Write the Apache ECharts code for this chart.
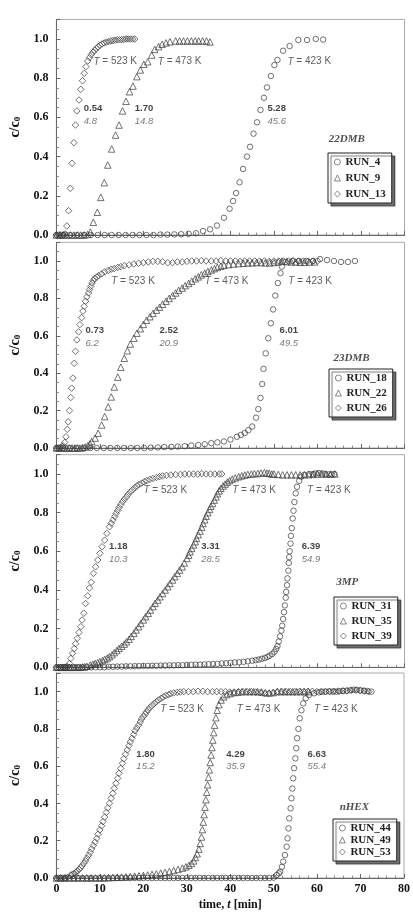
<!DOCTYPE html>
<html>
<head>
<meta charset="utf-8">
<script src="https://cdn.jsdelivr.net/npm/echarts@6/dist/echarts.min.js"></script>
<style>
  html, body { margin: 0; padding: 0; background: #fff; }
  #chart { width: 413px; height: 923px; }
</style>
</head>
<body>
<div id="chart"></div>
<script>
// breakthrough curves, [time min, c/c0]
const run4 = [[0,0],[1.6,0],[3.2,0],[4.8,0],[6.4,0],[7.9,0],[9.5,0],[11.1,0],[12.7,0],[14.3,0],[15.9,0],[17.5,0],[19.1,0],[20.7,0],[22.3,0],[23.9,0.002],[25.5,0.002],[27.1,0.003],[28.7,0.004],[30.4,0.006],[32.1,0.009],[33.7,0.02],[35.3,0.029],[36.9,0.048],[38.5,0.088],[39.8,0.134],[40.6,0.173],[41.3,0.214],[42.1,0.269],[42.9,0.337],[43.8,0.4],[44.5,0.45],[45.3,0.517],[46.1,0.575],[46.9,0.638],[47.7,0.7],[48.4,0.753],[49.3,0.811],[50.1,0.867],[50.8,0.893],[52.1,0.94],[53.6,0.964],[55.6,0.995],[57.6,0.995],[59.6,1.0],[61.3,0.997]];
const run9 = [[0,0],[0.8,0],[1.6,0],[2.4,0],[3.2,0],[4.0,0],[4.8,0],[5.6,0],[6.4,0],[7.2,0.003],[7.8,0.015],[8.5,0.065],[9.4,0.116],[10.2,0.192],[11.0,0.267],[11.8,0.357],[12.7,0.439],[13.6,0.51],[14.4,0.561],[15.2,0.633],[16.0,0.682],[16.8,0.731],[17.6,0.76],[18.5,0.808],[19.3,0.842],[20.1,0.871],[21.0,0.884],[21.9,0.918],[22.6,0.947],[23.5,0.961],[24.3,0.973],[25.2,0.98],[26.1,0.986],[27.4,0.99],[28.3,0.99],[29.2,0.99],[30.1,0.99],[31.0,0.99],[31.9,0.99],[32.7,0.99],[33.6,0.99],[34.5,0.99],[35.3,0.985]];
const run13 = [[0,0],[0.4,0],[0.8,0],[1.2,0],[1.6,0],[2.0,0.005],[2.4,0.046],[2.8,0.124],[3.2,0.238],[3.6,0.366],[4.0,0.471],[4.4,0.561],[4.7,0.633],[5.2,0.689],[5.6,0.743],[6.0,0.787],[6.4,0.825],[6.8,0.859],[7.2,0.888],[7.6,0.905],[8.0,0.92],[8.4,0.932],[8.8,0.942],[9.2,0.952],[9.6,0.96],[10.0,0.968],[10.5,0.975],[11.0,0.98],[11.5,0.984],[12.0,0.987],[12.5,0.99],[13.0,0.992],[13.5,0.994],[14.0,0.996],[14.5,0.996],[15.0,0.997],[15.5,0.998],[16.0,1.0],[16.5,1.0],[17.0,1.0],[17.5,1.0],[18.0,1.0]];

const run18 = [[0,0],[1.6,0],[3.1,0],[4.7,0],[6.2,0],[7.8,0],[9.3,0],[10.9,0],[12.4,0],[14.0,0],[15.5,0],[17.1,0],[18.6,0],[20.2,0],[21.7,0.002],[23.3,0.003],[24.8,0.005],[26.4,0.006],[27.9,0.008],[29.5,0.01],[31.0,0.013],[32.6,0.016],[34.1,0.02],[35.6,0.026],[37.0,0.03],[38.5,0.035],[40.0,0.045],[41.5,0.06],[42.4,0.07],[43.3,0.08],[44.1,0.095],[45.0,0.115],[45.9,0.162],[46.4,0.208],[46.9,0.268],[47.3,0.342],[47.6,0.423],[48.1,0.506],[48.7,0.587],[49.3,0.667],[49.8,0.741],[50.3,0.815],[50.9,0.882],[51.5,0.935],[51.8,0.97],[52.6,0.995],[54.2,1.0],[55.8,1.0],[57.4,1.0],[59.0,1.0],[60.6,1.01],[62.2,1.005],[63.8,1.0],[65.4,0.995],[67.0,0.995],[68.6,1.0]];
const run22 = [[0,0],[0.6,0],[1.2,0],[1.8,0],[2.4,0],[3.0,0],[3.6,0],[4.2,0],[4.8,0],[5.4,0],[6.0,0.002],[6.6,0.005],[7.2,0.012],[7.7,0.022],[8.1,0.035],[8.9,0.053],[9.6,0.079],[10.4,0.123],[11.1,0.168],[11.9,0.22],[12.6,0.273],[13.3,0.326],[14.1,0.379],[14.8,0.432],[15.6,0.48],[16.3,0.52],[17.0,0.556],[17.8,0.587],[18.5,0.614],[19.3,0.638],[20.0,0.661],[20.7,0.683],[21.5,0.702],[22.2,0.72],[23.0,0.737],[23.7,0.753],[24.4,0.769],[25.2,0.785],[25.9,0.8],[26.7,0.815],[27.4,0.829],[28.1,0.843],[28.9,0.855],[29.6,0.868],[30.4,0.88],[31.1,0.892],[31.9,0.905],[32.6,0.915],[33.3,0.926],[34.1,0.935],[34.8,0.944],[35.6,0.952],[36.3,0.959],[37.0,0.966],[37.8,0.972],[38.5,0.977],[39.6,0.981],[40.7,0.984],[41.9,0.986],[43.0,0.988],[44.0,0.99],[45.0,0.99],[46.0,0.992],[47.0,0.992],[48.0,0.99],[49.0,0.99],[50.0,0.992],[51.0,0.995],[51.8,1.0],[53.0,0.997],[54.0,0.995],[55.0,0.995],[56.0,0.993],[57.0,0.993],[58.1,0.995],[59.3,0.995]];
const run26 = [[0,0],[0.4,0],[0.8,0],[1.1,0.005],[1.5,0.012],[1.9,0.03],[2.2,0.06],[2.5,0.1],[2.7,0.14],[3.0,0.2],[3.3,0.27],[3.5,0.32],[3.8,0.374],[4.1,0.453],[4.4,0.517],[4.7,0.578],[5.1,0.621],[5.4,0.66],[5.8,0.697],[6.1,0.732],[6.4,0.758],[6.7,0.785],[7.0,0.808],[7.4,0.829],[7.6,0.847],[7.9,0.864],[8.2,0.882],[8.5,0.896],[8.8,0.907],[9.3,0.914],[9.7,0.922],[10.4,0.931],[11.1,0.942],[11.9,0.949],[12.6,0.956],[13.3,0.959],[14.1,0.966],[14.8,0.97],[15.6,0.975],[16.7,0.979],[17.8,0.984],[18.9,0.988],[20.0,0.991],[21.1,0.995],[22.2,0.998],[23.3,0.998],[24.4,0.996],[25.6,0.991],[26.7,0.991],[27.8,0.995],[28.9,0.995],[30.0,0.998],[31.1,1.0],[32.2,1.0],[33.3,1.002],[34.4,1.0],[35.6,1.0],[36.7,1.0],[37.8,1.002],[38.9,1.0],[40.0,1.0],[41.1,1.0],[42.2,0.998],[43.3,1.0],[44.4,1.0],[45.6,1.0],[46.7,1.0],[47.8,1.0],[48.9,0.998],[50.0,1.0],[51.1,1.0],[52.2,1.0],[53.3,1.0],[54.4,1.002],[55.6,1.0],[56.7,1.0],[57.8,0.998],[58.9,1.0],[60.0,1.0]];

const run31 = [[0,0],[1,0],[2,0],[3,0],[4,0],[5,0],[6,0],[7,0],[8,0],[9,0],[10,0],[11,0],[12,0.003],[13,0.003],[14,0.004],[15,0.004],[16,0.005],[17,0.005],[18,0.006],[19,0.006],[20,0.007],[21,0.007],[22,0.008],[23,0.008],[24,0.009],[25,0.009],[26,0.01],[27,0.01],[28,0.011],[29,0.011],[30,0.012],[31,0.013],[32,0.014],[33,0.014],[34,0.015],[35,0.016],[36,0.017],[37,0.018],[38,0.02],[39,0.021],[40,0.023],[41,0.025],[42,0.026],[43,0.028],[44,0.031],[45,0.034],[45.8,0.037],[46.5,0.04],[47.2,0.044],[47.9,0.048],[48.5,0.054],[49.0,0.06],[49.6,0.069],[50.1,0.08],[50.5,0.095],[50.8,0.11],[51.1,0.133],[51.4,0.16],[51.7,0.19],[51.9,0.215],[52.1,0.25],[52.3,0.285],[52.5,0.32],[52.7,0.36],[52.8,0.39],[53.0,0.425],[53.1,0.46],[53.3,0.5],[53.4,0.54],[53.5,0.57],[53.6,0.6],[53.8,0.64],[53.9,0.68],[54.1,0.72],[54.3,0.77],[54.5,0.81],[54.7,0.855],[55.0,0.9],[55.3,0.934],[55.8,0.965],[56.3,0.986],[57.0,0.996],[58.1,1.0],[59.0,1.0],[59.6,1.003],[60.3,1.005],[61.1,1.003],[61.8,1.0],[62.6,0.998],[63.3,0.998],[63.9,1.0]];
const run35 = [[0,0],[0.5,0],[1.0,0],[1.5,0],[2.0,0],[2.5,0],[3.0,0],[3.5,0],[4.0,0],[4.5,0],[5.0,0],[5.5,0],[6.0,0.002],[6.5,0.003],[7.0,0.005],[7.8,0.012],[8.4,0.016],[8.9,0.02],[9.5,0.024],[10.0,0.029],[10.6,0.035],[11.1,0.041],[11.7,0.048],[12.2,0.055],[12.8,0.065],[13.3,0.076],[13.9,0.087],[14.4,0.098],[15.0,0.109],[15.6,0.12],[16.1,0.132],[16.7,0.145],[17.2,0.16],[17.8,0.176],[18.3,0.193],[18.9,0.21],[19.4,0.227],[20.0,0.245],[20.5,0.262],[21.1,0.279],[21.6,0.296],[22.2,0.314],[22.7,0.331],[23.3,0.348],[23.8,0.365],[24.4,0.382],[25.0,0.4],[25.6,0.417],[26.1,0.434],[26.7,0.452],[27.2,0.469],[27.8,0.486],[28.3,0.503],[28.9,0.52],[29.4,0.54],[30.0,0.563],[30.4,0.58],[30.7,0.598],[31.1,0.615],[31.5,0.633],[31.9,0.65],[32.2,0.667],[32.6,0.686],[33.0,0.705],[33.4,0.725],[33.7,0.744],[34.1,0.763],[34.4,0.782],[34.8,0.8],[35.2,0.817],[35.5,0.833],[35.9,0.848],[36.3,0.865],[36.7,0.882],[37.0,0.898],[37.4,0.913],[37.8,0.926],[38.3,0.938],[38.8,0.948],[39.3,0.958],[39.8,0.966],[40.4,0.974],[41.1,0.98],[41.9,0.986],[42.6,0.991],[43.3,0.995],[44.0,0.998],[44.8,1.0],[45.5,1.002],[46.3,1.003],[47.0,1.005],[47.8,1.007],[48.4,1.005],[48.9,1.003],[49.5,1.0],[50.0,1.0],[51.0,0.998],[52.0,0.996],[53.0,0.996],[54.0,0.996],[55.0,0.996],[56.0,0.996],[57.0,0.996],[58.0,0.997],[59.0,0.998],[60.0,1.0],[61.0,1.0],[62.0,1.0],[63.0,1.0],[64.0,1.0]];
const run39 = [[0,0],[0.5,0],[1.0,0],[1.5,0],[2.0,0],[2.5,0.004],[3.0,0.02],[3.3,0.046],[3.7,0.072],[4.1,0.097],[4.4,0.122],[4.8,0.15],[5.2,0.18],[5.6,0.21],[5.9,0.245],[6.3,0.28],[6.7,0.33],[7.2,0.37],[7.6,0.41],[8.0,0.44],[8.5,0.486],[9.0,0.52],[9.5,0.555],[10.0,0.59],[10.5,0.624],[11.1,0.658],[11.6,0.693],[12.2,0.727],[12.6,0.745],[13.0,0.762],[13.4,0.78],[13.7,0.796],[14.1,0.812],[14.4,0.827],[14.8,0.842],[15.2,0.857],[15.6,0.87],[16.1,0.882],[16.5,0.895],[17.0,0.908],[17.5,0.918],[18.0,0.929],[18.5,0.938],[19.0,0.946],[19.6,0.953],[20.2,0.96],[20.8,0.966],[21.5,0.972],[22.2,0.977],[23.0,0.982],[23.7,0.986],[24.4,0.99],[25.3,0.993],[26.3,0.995],[27.4,0.997],[28.5,0.998],[29.5,1.0],[30.5,1.0],[31.5,1.0],[32.5,1.0],[33.4,1.002],[34.4,1.0],[35.4,1.0],[36.4,1.0],[37.4,1.0],[38.0,1.0]];

const run44 = [[0,0],[1,0],[2,0],[3,0],[4,0],[5,0],[6,0],[7,0],[8,0],[9,0],[10,0],[11,0],[12,0],[13,0],[14,0],[15,0],[16,0],[17,0],[18,0],[19,0],[20,0],[21,0],[22,0],[23,0],[24,0],[25,0],[26,0],[27,0],[28,0],[29,0],[30,0],[31,0],[32,0],[33,0],[34,0],[35,0],[36,0],[37,0],[38,0],[39,0],[40,0],[41,0],[42,0],[43,0],[44,0],[45,0],[46,0],[47,0],[48,0],[49,0],[50,0.002],[50.7,0.016],[51.2,0.025],[51.5,0.034],[51.9,0.06],[52.2,0.088],[52.6,0.123],[53.0,0.168],[53.2,0.213],[53.4,0.266],[53.6,0.32],[53.9,0.374],[54.1,0.428],[54.3,0.48],[54.5,0.535],[54.7,0.589],[55.0,0.642],[55.2,0.696],[55.4,0.75],[55.7,0.8],[56.0,0.857],[56.4,0.9],[56.8,0.937],[57.4,0.964],[58.1,0.982],[59.3,0.991],[60.4,0.996],[61.2,1.0],[62.0,1.0],[62.8,1.002],[63.6,1.0],[64.4,1.0],[65.2,1.002],[66.0,1.003],[66.8,1.005],[67.6,1.007],[68.4,1.01],[69.2,1.01],[70.0,1.007],[70.8,1.005],[71.6,1.003],[72.5,1.0]];
const run49 = [[0,0],[1,0],[2,0],[3,0],[4,0],[5,0],[6,0],[7,0],[8,0],[9,0],[10,0],[11,0],[12,0.002],[13,0.003],[14,0.004],[15,0.005],[16,0.007],[17,0.008],[18,0.01],[19,0.012],[20,0.014],[21,0.016],[22,0.019],[23,0.022],[24,0.026],[25,0.03],[26,0.035],[27,0.04],[28,0.046],[29,0.053],[29.8,0.06],[30.5,0.068],[31.1,0.078],[31.6,0.092],[32.0,0.11],[32.4,0.13],[32.8,0.155],[33.1,0.185],[33.4,0.22],[33.6,0.26],[33.8,0.3],[34.0,0.34],[34.2,0.38],[34.4,0.42],[34.6,0.46],[34.8,0.5],[35.0,0.54],[35.2,0.58],[35.4,0.62],[35.6,0.66],[35.8,0.7],[36.0,0.74],[36.2,0.78],[36.4,0.82],[36.7,0.86],[37.0,0.9],[37.4,0.93],[37.9,0.955],[38.5,0.972],[39.2,0.984],[40.0,0.99],[40.9,0.995],[41.8,0.997],[42.7,1.0],[43.6,1.0],[44.5,1.0],[45.4,1.0],[46.3,1.0],[47.2,0.998],[48.1,0.995],[49.0,0.993],[49.9,0.995],[50.8,1.0],[51.7,1.0],[52.6,1.0],[53.5,1.0],[54.4,1.0],[55.3,1.0],[56.2,1.0],[57.1,1.0],[58.0,1.0]];
const run53 = [[0,0],[0.5,0],[1.0,0],[1.5,0],[2.0,0],[2.6,0.004],[3.3,0.016],[3.7,0.02],[4.1,0.025],[4.5,0.031],[4.8,0.038],[5.2,0.046],[5.6,0.055],[5.9,0.066],[6.3,0.079],[6.7,0.092],[7.0,0.106],[7.4,0.122],[7.8,0.138],[8.1,0.156],[8.5,0.174],[8.9,0.193],[9.3,0.213],[9.6,0.235],[10.0,0.258],[10.4,0.28],[10.7,0.302],[11.1,0.327],[11.5,0.352],[11.8,0.376],[12.2,0.401],[12.6,0.428],[13.0,0.454],[13.3,0.481],[13.7,0.508],[14.1,0.535],[14.4,0.562],[14.8,0.588],[15.2,0.615],[15.5,0.64],[15.9,0.664],[16.3,0.687],[16.7,0.71],[17.0,0.73],[17.4,0.75],[17.8,0.77],[18.1,0.79],[18.5,0.805],[18.9,0.82],[19.3,0.837],[19.6,0.853],[20.0,0.866],[20.4,0.878],[20.7,0.89],[21.1,0.902],[21.5,0.914],[22.0,0.925],[22.5,0.936],[23.0,0.946],[23.5,0.955],[24.1,0.964],[24.6,0.972],[25.2,0.979],[25.8,0.984],[26.3,0.989],[27.0,0.993],[27.8,0.996],[28.5,0.998],[29.3,1.0],[30.4,1.0],[31.5,1.0],[32.6,1.002],[33.7,1.002],[34.8,1.0],[35.9,1.0],[36.9,1.0],[37.9,1.0],[38.9,1.0],[39.9,0.998],[40.9,0.998],[41.9,1.0],[42.9,1.0],[43.9,1.0],[44.9,1.0],[45.9,0.998],[46.9,0.995],[47.9,0.99],[48.9,0.99],[49.9,0.995],[50.9,1.0],[51.9,1.0],[52.9,1.0],[53.9,1.0],[54.9,1.0],[55.9,1.0],[56.9,1.0],[57.9,1.002],[58.9,1.002],[59.9,1.0],[60.9,1.0],[61.9,1.0],[62.9,1.0],[63.9,1.002],[64.9,1.003],[65.9,1.005],[66.9,1.005],[67.9,1.008],[68.9,1.008],[69.9,1.005],[70.9,1.003],[71.9,1.0]];

const panelNames = ['22DMB', '23DMB', '3MP', 'nHEX'];
const runNames = [['RUN_4', 'RUN_9', 'RUN_13'], ['RUN_18', 'RUN_22', 'RUN_26'], ['RUN_31', 'RUN_35', 'RUN_39'], ['RUN_44', 'RUN_49', 'RUN_53']];
const runData = [[run4, run9, run13], [run18, run22, run26], [run31, run35, run39], [run44, run49, run53]];
const temps = ['423', '473', '523'];
const stoichBold = [['5.28', '1.70', '0.54'], ['6.01', '2.52', '0.73'], ['6.39', '3.31', '1.18'], ['6.63', '4.29', '1.80']];
const stoichItal = [['45.6', '14.8', '4.8'], ['49.5', '20.9', '6.2'], ['54.9', '28.5', '10.3'], ['55.4', '35.9', '15.2']];

// layout (pixels and label anchors in data units)
const grids = [
  { top: 19.4, height: 215.6 },
  { top: 242.3, height: 205.7 },
  { top: 454.7, height: 212.6 },
  { top: 673, height: 205 }
];
const legendPos = [[328, 153, 4], [329, 369, 3], [334, 597, 3], [333, 819, 0]];
const tempPos = [
  [[53.1, 0.884], [23.3, 0.884], [8.5, 0.884]],
  [[53.3, 0.892], [34.1, 0.892], [12.6, 0.892]],
  [[57.6, 0.917], [40.4, 0.917], [20.0, 0.917]],
  [[59.3, 0.905], [41.5, 0.905], [23.9, 0.905]]
];
const numPos = [
  [[48.5, 0.646], [18.0, 0.646], [6.3, 0.646]],
  [[51.3, 0.627], [23.7, 0.627], [6.7, 0.627]],
  [[56.4, 0.624], [33.3, 0.624], [12.1, 0.624]],
  [[57.8, 0.664], [39.1, 0.664], [18.4, 0.664]]
];
const namePos = [[62.6, 0.488], [63.7, 0.479], [64.3, 0.443], [65.2, 0.379]];

const SERIF = "'Liberation Serif', 'Times New Roman', serif";
const SANS = "'Liberation Sans', Arial, sans-serif";
const symbols = ['circle', 'triangle', 'diamond'];
const symbolSizes = [5.5, 6.5, 6.5];
const markStyle = { color: 'rgba(0,0,0,0)', borderColor: '#3a3a3a', borderWidth: 0.9 };

const chart = echarts.init(document.getElementById('chart'));

let gridOpt = [], xAxes = [], yAxes = [], legends = [], series = [];

grids.forEach((g, i) => {
  const last = i === grids.length - 1;
  gridOpt.push({ left: 44.5, width: 360, top: g.top, height: g.height, show: true, borderColor: '#aaa', borderWidth: 1, backgroundColor: '#fff' });
  xAxes.push({
    type: 'value', gridIndex: i, min: 0, max: 80, interval: 10,
    axisLine: { show: true, onZero: false, lineStyle: { color: '#666', width: 1 } },
    axisTick: { show: true, inside: true, length: 4, lineStyle: { color: '#666' } },
    minorTick: { show: true, splitNumber: 5, length: 2.5, lineStyle: { color: '#888' } },
    splitLine: { show: false },
    axisLabel: { show: last, margin: 5, color: '#111', fontFamily: SERIF, fontWeight: 'bold', fontSize: 12 },
    name: last ? 'time, {i|t} [min]' : '',
    nameLocation: 'middle', nameGap: 21,
    nameTextStyle: {
      fontFamily: SERIF, fontWeight: 'bold', fontSize: 12, color: '#111',
      rich: { i: { fontFamily: SERIF, fontWeight: 'bold', fontStyle: 'italic', fontSize: 12, color: '#111' } }
    }
  });
  yAxes.push({
    type: 'value', gridIndex: i, min: 0, max: 1.1, interval: 0.2,
    axisLine: { show: true, lineStyle: { color: '#666', width: 1 } },
    axisTick: { show: true, inside: true, length: 4, lineStyle: { color: '#666' } },
    minorTick: { show: true, splitNumber: 4, length: 2.5, lineStyle: { color: '#888' } },
    splitLine: { show: false },
    axisLabel: {
      showMaxLabel: false, margin: 8, color: '#111', fontFamily: SERIF, fontWeight: 'bold', fontSize: 12,
      formatter: v => v.toFixed(1)
    },
    name: 'c/c{s|0}', nameLocation: 'middle', nameGap: 29, nameRotate: 90,
    nameTextStyle: {
      fontFamily: SERIF, fontWeight: 'bold', fontSize: 14, color: '#111',
      rich: { s: { fontFamily: SERIF, fontWeight: 'bold', fontSize: 9, color: '#111', verticalAlign: 'bottom', padding: [6, 0, 0, 0] } }
    }
  });

  const lp = legendPos[i];
  legends.push({
    data: runNames[i], orient: 'vertical', left: lp[0], top: lp[1],
    itemWidth: 6, itemHeight: 6, itemGap: lp[2], padding: [3, 6, 3, 6],
    backgroundColor: '#fff', borderColor: '#222', borderWidth: 1,
    shadowColor: 'rgba(0,0,0,0.55)', shadowBlur: 1, shadowOffsetX: 3, shadowOffsetY: 3,
    selectedMode: false,
    itemStyle: { color: 'rgba(0,0,0,0)', borderColor: '#444', borderWidth: 0.8 },
    textStyle: { fontFamily: SERIF, fontWeight: 'bold', fontSize: 11, color: '#222', lineHeight: 12 }
  });

  runData[i].forEach((d, k) => {
    series.push({
      type: 'scatter', name: runNames[i][k], xAxisIndex: i, yAxisIndex: i,
      data: d, symbol: symbols[k], symbolSize: symbolSizes[k],
      itemStyle: markStyle,
      emphasis: { disabled: true }, silent: true
    });
  });

  // text annotations
  let notes = [];
  temps.forEach((t, k) => {
    notes.push({ value: tempPos[i][k], label: { formatter: '{i|T} = ' + t + ' K', fontFamily: SANS, fontSize: 10, color: '#333',
      rich: { i: { fontFamily: SANS, fontStyle: 'italic', fontSize: 10, color: '#333' } } } });
    notes.push({ value: numPos[i][k], label: { formatter: stoichBold[i][k], fontFamily: SANS, fontWeight: 'bold', fontSize: 9.5, color: '#111' } });
    notes.push({ value: [numPos[i][k][0], numPos[i][k][1] - 0.067], label: { formatter: stoichItal[i][k], fontFamily: SANS, fontStyle: 'italic', fontSize: 9.5, color: '#555' } });
  });
  notes.push({ value: namePos[i], label: { formatter: panelNames[i], fontFamily: SERIF, fontWeight: 'bold', fontStyle: 'italic', fontSize: 11, color: '#222' } });
  series.push({
    type: 'scatter', xAxisIndex: i, yAxisIndex: i, symbolSize: 0, silent: true, z: 5,
    label: { show: true, position: 'right', distance: 0 },
    data: notes
  });
});

chart.setOption({
  animation: false,
  backgroundColor: '#fff',
  grid: gridOpt,
  xAxis: xAxes,
  yAxis: yAxes,
  legend: legends,
  series: series
});
</script>
</body>
</html>
